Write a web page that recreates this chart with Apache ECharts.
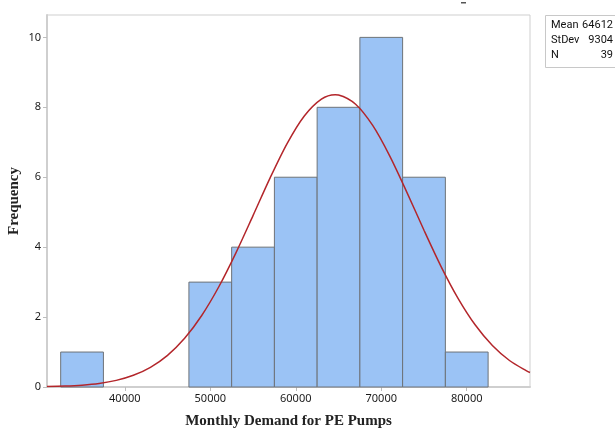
<!DOCTYPE html>
<html>
<head>
<meta charset="utf-8">
<script src="https://cdn.jsdelivr.net/npm/echarts@6/dist/echarts.min.js"></script>
<style>html,body{margin:0;padding:0;background:#fff}#c{width:615px;height:428px}</style>
</head>
<body>
<div id="c"></div>
<script>
// Histogram bins (lower edge, upper edge) and frequencies
const binStarts = [32500, 37500, 42500, 47500, 52500, 57500, 62500, 67500, 72500, 77500];
const binEnds   = [37500, 42500, 47500, 52500, 57500, 62500, 67500, 72500, 77500, 82500];
const frequencies = [1, 0, 0, 3, 4, 6, 8, 10, 6, 1];
// Fitted normal curve
const curveX = [30900, 33000, 35000, 37000, 39000, 41000, 43000, 45000, 47000, 49000, 51000, 53000, 55000, 57000, 59000, 61000, 63000, 64612, 65000, 67000, 69000, 71000, 73000, 75000, 77000, 79000, 81000, 83000, 85000, 87000, 87400];
const curveY = [0.012, 0.026, 0.053, 0.102, 0.189, 0.334, 0.563, 0.906, 1.393, 2.046, 2.867, 3.837, 4.902, 5.982, 6.970, 7.753, 8.235, 8.360, 8.353, 8.089, 7.481, 6.604, 5.568, 4.483, 3.445, 2.529, 1.772, 1.186, 0.758, 0.462, 0.416];
const xTicks = [40000, 50000, 60000, 70000, 80000];
const statLabels = ['Mean', 'StDev', 'N'];
const statValues = ['64612', '9304', '39'];

const chart = echarts.init(document.getElementById('c'));
const histData = binStarts.map((s, i) => [s, binEnds[i], frequencies[i]]).filter(d => d[2] > 0);
const curveData = curveX.map((x, i) => [x, curveY[i]]);
const tickFont = 'Noto Sans';
const statFont = '11px Roboto';

const graphics = [{
  type: 'rect', left: 545, top: 15,
  shape: { width: 80, height: 52 },
  style: { fill: '#fff', stroke: '#c8c8c8', lineWidth: 1 }
}, {
  type: 'rect', left: 461, top: 2,
  shape: { width: 5, height: 1.5 },
  style: { fill: '#555' }
}];
statLabels.forEach((lab, i) => {
  graphics.push({ type: 'text', x: 551, y: 19.5 + i * 15.2,
    style: { text: lab, font: statFont, fill: '#111', textAlign: 'left' } });
  graphics.push({ type: 'text', x: 613, y: 19.5 + i * 15.2,
    style: { text: statValues[i], font: statFont, fill: '#111', textAlign: 'right' } });
});

chart.setOption({
  animation: false,
  grid: { left: 47, right: 85, top: 15, bottom: 41, outerBoundsMode: 'none', containLabel: false,
          show: true, borderColor: '#cfcfcf', borderWidth: 1 },
  xAxis: {
    type: 'value', min: 30900, max: 87400,
    name: 'Monthly Demand for PE Pumps', nameLocation: 'middle', nameGap: 27, nameMoveOverlap: false,
    nameTextStyle: { fontFamily: 'Liberation Serif', fontWeight: 'bold', fontSize: 15, color: '#222' },
    axisLine: { show: true, lineStyle: { color: '#cfcfcf', width: 2 } },
    axisTick: { show: true, length: 4, lineStyle: { color: '#bdbdbd' }, customValues: xTicks },
    axisLabel: { customValues: xTicks, formatter: v => String(v), fontFamily: tickFont, fontSize: 11, color: '#1a1a1a', margin: 6 },
    splitLine: { show: false }
  },
  yAxis: {
    type: 'value', min: 0, max: 10.64, interval: 2,
    name: 'Frequency', nameLocation: 'middle', nameGap: 25, nameMoveOverlap: false,
    nameTextStyle: { fontFamily: 'Liberation Serif', fontWeight: 'bold', fontSize: 15, color: '#222' },
    axisLine: { show: true, lineStyle: { color: '#cfcfcf', width: 2 } },
    axisTick: { show: true, length: 4, lineStyle: { color: '#bdbdbd' } },
    axisLabel: { fontFamily: tickFont, fontSize: 11, color: '#1a1a1a', margin: 6, showMaxLabel: false },
    splitLine: { show: false }
  },
  series: [{
    type: 'custom',
    renderItem: function (params, api) {
      const p0 = api.coord([api.value(0), api.value(2)]);
      const p1 = api.coord([api.value(1), 0]);
      return { type: 'rect',
        shape: { x: p0[0], y: p0[1], width: p1[0] - p0[0], height: p1[1] - p0[1] },
        style: { fill: '#9bc3f5', stroke: '#6e7378', lineWidth: 1 } };
    },
    encode: { x: [0, 1], y: 2 },
    data: histData, z: 2
  }, {
    type: 'line', data: curveData, smooth: 0.3, showSymbol: false, z: 3,
    lineStyle: { color: '#b3262b', width: 1.5 }
  }],
  graphic: graphics
});
</script>
</body>
</html>
